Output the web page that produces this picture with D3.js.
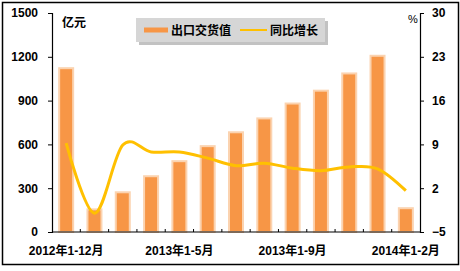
<!DOCTYPE html>
<html>
<head>
<meta charset="utf-8">
<script src="https://cdn.jsdelivr.net/npm/d3@7"></script>
<style>
  body { margin: 0; background: #fff; }
  svg text { font-family: "Liberation Sans", Arial, "Noto Sans CJK SC", sans-serif; font-weight: bold; fill: #000; }
</style>
</head>
<body>
<div class="chart"></div>
<script>
// 類別(月份累計)
const categories = ['2012年1-12月', '2013年1-2月', '2013年1-3月', '2013年1-4月', '2013年1-5月', '2013年1-6月',
  '2013年1-7月', '2013年1-8月', '2013年1-9月', '2013年1-10月', '2013年1-11月', '2013年1-12月', '2014年1-2月'];
// 出口交货值(亿元)
const exportValues = [1122, 155, 272, 382, 485, 588, 683, 778, 880, 968, 1086, 1207, 163];
// 同比增长(%)
const growthValues = [9.2, -2.0, 8.9, 7.8, 7.8, 6.8, 5.6, 6.0, 5.2, 4.8, 5.4, 5.1, 1.6];
const leftTicks = [0, 300, 600, 900, 1200, 1500];
const rightTicks = [-5, 2, 9, 16, 23, 30];
const xLabelIdx = [0, 4, 8, 12];

const W = 460, H = 271;
const margin = { top: 13, right: 40, bottom: 39, left: 52 };
const cw = W - margin.left - margin.right;
const ch = H - margin.top - margin.bottom;

const svg = d3.select('.chart').append('svg').attr('width', W).attr('height', H);

// 外框
svg.append('rect').attr('x', 2.5).attr('y', 2.5).attr('width', 456).attr('height', 262)
  .attr('fill', 'none').attr('stroke', '#000').attr('stroke-width', 1.5);

const g = svg.append('g').attr('transform', `translate(${margin.left},${margin.top})`);

const xBand = d3.scaleBand().domain(categories).range([0, cw]);
const yL = d3.scaleLinear().domain([0, 1500]).range([ch, 0]);
const yR = d3.scaleLinear().domain([-5, 30]).range([ch, 0]);

// bars
g.selectAll('.bar').data(exportValues).enter().append('rect')
  .attr('class', 'bar')
  .attr('x', (d, i) => xBand(categories[i]) + (xBand.bandwidth() - 14) / 2)
  .attr('width', 14)
  .attr('y', d => yL(d))
  .attr('height', d => ch - yL(d))
  .attr('fill', '#F79646')
  .attr('stroke', '#FBD3B0').attr('stroke-width', 2);

// 同比增长 line
const line = d3.line()
  .x((d, i) => xBand(categories[i]) + xBand.bandwidth() / 2)
  .y(d => yR(d))
  .curve(d3.curveCardinal.tension(0));
g.append('path').datum(growthValues).attr('d', line)
  .attr('fill', 'none').attr('stroke', '#FFC000').attr('stroke-width', 3);

// 左軸
const yAxisL = d3.axisLeft(yL).tickValues(leftTicks).tickFormat(d3.format('d')).tickSize(4).tickPadding(10);
const gl = g.append('g').call(yAxisL);
gl.selectAll('text').style('font-size', '12px');
gl.select('.domain').attr('stroke-width', 1.2);

// 右軸
const yAxisR = d3.axisRight(yR).tickValues(rightTicks).tickFormat(d3.format('d')).tickSize(4).tickPadding(8);
const gr = g.append('g').attr('transform', `translate(${cw},0)`).call(yAxisR);
gr.selectAll('text').style('font-size', '12px');
gr.select('.domain').attr('stroke-width', 1.2);

// X 軸
const gx = g.append('g').attr('transform', `translate(0,${ch})`);
gx.append('line').attr('x1', 0).attr('x2', cw).attr('stroke', '#000').attr('stroke-width', 1.2);
gx.selectAll('.xt').data(categories.slice(1)).enter().append('line')
  .attr('x1', d => xBand(d)).attr('x2', d => xBand(d))
  .attr('y1', 0).attr('y2', -3).attr('stroke', '#000');
gx.selectAll('.xl').data(xLabelIdx).enter().append('text')
  .attr('x', i => xBand(categories[i]) + xBand.bandwidth() / 2)
  .attr('y', 23)
  .attr('text-anchor', 'middle')
  .style('font-size', '12px')
  .text(i => categories[i]);

// 單位
g.append('text').attr('x', 10).attr('y', 14).style('font-size', '12px').text('亿元');
g.append('text').attr('x', cw - 12).attr('y', 10).style('font-size', '11px').style('font-weight', 'normal').text('%');

// 圖例
const lg = svg.append('g').attr('transform', 'translate(136,18)');
lg.append('rect').attr('x', 3).attr('y', 3).attr('width', 189).attr('height', 24).attr('fill', '#9a9a9a').attr('opacity', 0.6);
lg.append('rect').attr('width', 189).attr('height', 24).attr('fill', '#D6D6D6');
lg.append('line').attr('x1', 8).attr('x2', 32).attr('y1', 12).attr('y2', 12)
  .attr('stroke', '#F79646').attr('stroke-width', 5);
lg.append('text').attr('x', 35).attr('y', 17).style('font-size', '12px').text('出口交货值');
lg.append('line').attr('x1', 104).attr('x2', 131).attr('y1', 12).attr('y2', 12)
  .attr('stroke', '#FFC000').attr('stroke-width', 2);
lg.append('text').attr('x', 134).attr('y', 17).style('font-size', '12px').text('同比增长');
</script>
</body>
</html>
